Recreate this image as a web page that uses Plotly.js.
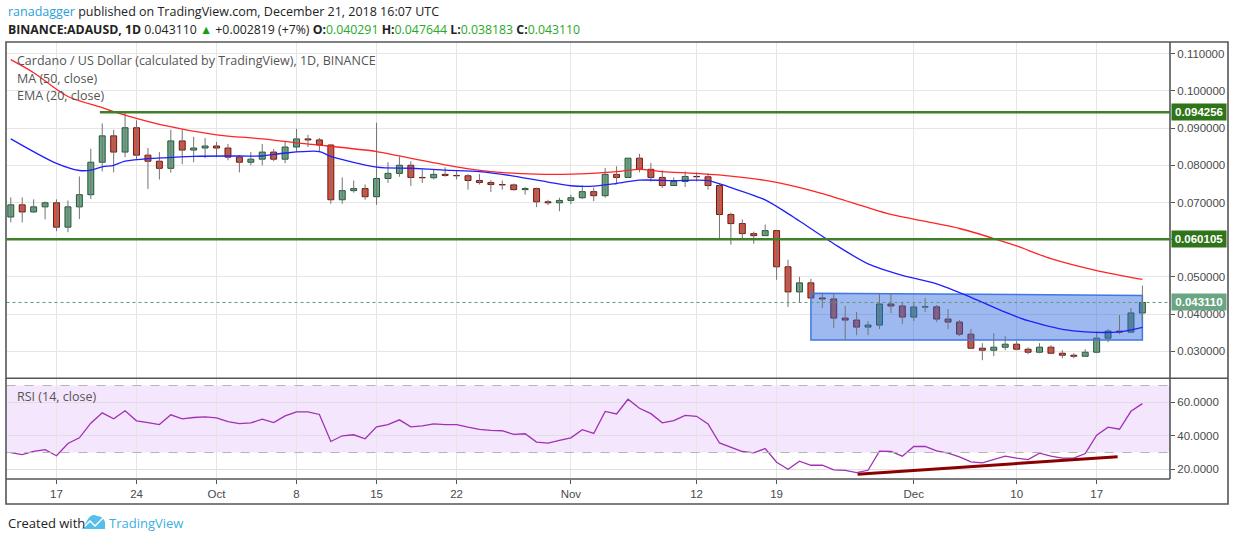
<!DOCTYPE html>
<html><head><meta charset="utf-8">
<script src="https://cdn.plot.ly/plotly-3.0.1.min.js"></script>
<style>html,body{margin:0;padding:0;background:#fff;}#chart{width:1234px;height:541px;}</style>
</head><body><div id="chart"></div>
<script>
// ---------- data ----------
const startDate = '2018-09-13';
const opens  = [0.06609,0.06936,0.06745,0.06882,0.06991,0.06336,0.06882,0.07209,0.08082,0.08791,
                0.08355,0.09009,0.08273,0.08109,0.07918,0.08655,0.08409,0.08464,0.08518,0.08464,
                0.08218,0.08082,0.08164,0.08355,0.08164,0.08491,0.08709,0.08682,0.08545,0.07073,
                0.07318,0.07373,0.07155,0.07645,0.07782,0.08000,0.07673,0.07664,0.07755,0.07727,
                0.07718,0.07591,0.07536,0.07482,0.07473,0.07345,0.07373,0.07018,0.06991,0.07055,
                0.07127,0.07291,0.07182,0.07755,0.07673,0.08191,0.07891,0.07673,0.07455,0.07564,
                0.07700,0.07691,0.07455,0.06676,0.06432,0.06162,0.06108,0.06243,0.05270,0.04595,
                0.04838,0.04432,0.04405,0.03892,0.03838,0.03649,0.03703,0.04270,0.04216,0.03919,
                0.04189,0.04193,0.03865,0.03784,0.03459,0.03081,0.03027,0.03108,0.03189,0.03054,
                0.02973,0.03108,0.02946,0.02892,0.02865,0.02973,0.03351,0.03541,0.03514,0.040291];
const highs  = [0.07136,0.07136,0.07082,0.07027,0.07082,0.07055,0.07700,0.08445,0.09127,0.08955,
                0.09445,0.09209,0.08464,0.08355,0.08955,0.08955,0.08764,0.08736,0.08627,0.08573,
                0.08273,0.08355,0.08573,0.08436,0.08627,0.08982,0.08818,0.08736,0.08573,0.07673,
                0.07591,0.07482,0.09145,0.08082,0.08236,0.08109,0.07891,0.07891,0.07945,0.07845,
                0.07764,0.07764,0.07600,0.07591,0.07509,0.07418,0.07400,0.07073,0.07127,0.07209,
                0.07455,0.07400,0.07927,0.07973,0.08191,0.08309,0.08064,0.07864,0.07673,0.07836,
                0.07809,0.07782,0.07514,0.06730,0.06541,0.06216,0.06405,0.06243,0.05460,0.05000,
                0.04946,0.04568,0.04541,0.04216,0.04054,0.03811,0.04541,0.04541,0.04324,0.04324,
                0.04432,0.04243,0.04135,0.03838,0.03595,0.03216,0.03486,0.03405,0.03270,0.03108,
                0.03216,0.03162,0.03027,0.02946,0.03054,0.03541,0.03595,0.03973,0.04162,0.047644];
const lows   = [0.06464,0.06464,0.06727,0.06545,0.06227,0.06200,0.06555,0.07091,0.07836,0.07809,
                0.08218,0.08164,0.07364,0.07618,0.07800,0.08027,0.08082,0.08191,0.08218,0.08136,
                0.07809,0.08000,0.08000,0.08109,0.08055,0.08355,0.08491,0.08355,0.06964,0.06964,
                0.07264,0.07073,0.06936,0.07527,0.07691,0.07445,0.07527,0.07618,0.07691,0.07618,
                0.07345,0.07482,0.07282,0.07345,0.07318,0.07209,0.06873,0.06927,0.06764,0.06955,
                0.07091,0.07036,0.07127,0.07509,0.07673,0.07809,0.07564,0.07391,0.07455,0.07418,
                0.07564,0.07345,0.06000,0.05865,0.06027,0.05892,0.06108,0.04919,0.04189,0.04324,
                0.04432,0.04162,0.03622,0.03306,0.03432,0.03432,0.03595,0.04027,0.03730,0.03811,
                0.04054,0.03784,0.03595,0.03405,0.03054,0.02757,0.02865,0.03027,0.03027,0.02919,
                0.02946,0.02919,0.02811,0.02811,0.02865,0.02946,0.03243,0.03459,0.03486,0.038183];
const closes = [0.06936,0.06745,0.06882,0.06991,0.06336,0.06882,0.07209,0.08082,0.08791,0.08355,
                0.09009,0.08273,0.08109,0.07918,0.08655,0.08409,0.08464,0.08518,0.08464,0.08218,
                0.08082,0.08164,0.08355,0.08164,0.08491,0.08709,0.08682,0.08545,0.07073,0.07318,
                0.07373,0.07155,0.07645,0.07782,0.08000,0.07673,0.07664,0.07755,0.07727,0.07718,
                0.07591,0.07536,0.07482,0.07473,0.07345,0.07373,0.07018,0.06991,0.07055,0.07127,
                0.07291,0.07182,0.07755,0.07673,0.08191,0.07891,0.07673,0.07455,0.07564,0.07700,
                0.07691,0.07455,0.06676,0.06432,0.06162,0.06108,0.06243,0.05270,0.04595,0.04838,
                0.04432,0.04405,0.03892,0.03838,0.03649,0.03703,0.04270,0.04216,0.03919,0.04189,
                0.04193,0.03865,0.03784,0.03459,0.03081,0.03027,0.03108,0.03189,0.03054,0.02973,
                0.03108,0.02946,0.02892,0.02865,0.02973,0.03351,0.03541,0.03514,0.040291,0.04311];
const rsiValues = [29.9,28.7,30.7,31.7,28.1,35.4,38.8,47.5,53.7,50.1,
                   54.9,48.9,47.9,46.7,52.5,50.1,50.9,51.3,50.7,48.5,
                   47.3,47.7,49.9,47.9,51.9,54.3,54.3,52.7,36.6,40.0,
                   40.6,38.2,45.3,46.7,49.5,45.3,45.9,47.1,46.7,46.7,
                   45.1,43.8,43.2,43.0,40.8,41.2,36.2,35.6,37.2,38.8,
                   43.6,41.4,54.5,53.0,61.8,56.4,53.2,47.7,49.1,52.2,
                   51.6,47.1,35.7,33.0,30.6,29.8,32.4,24.2,20.0,24.8,
                   22.4,22.4,19.6,19.4,18.0,19.4,30.8,30.6,27.8,33.6,
                   33.6,31.0,29.6,27.4,24.4,23.8,25.6,27.8,26.6,25.8,
                   29.6,27.8,26.6,26.6,29.4,40.3,45.1,43.9,54.6,59.2];
const maDates  = ['2018-09-13','2018-09-15','2018-09-18','2018-09-21','2018-09-22','2018-09-26','2018-10-01','2018-10-05',
                  '2018-10-08','2018-10-10','2018-10-15','2018-10-17','2018-10-22','2018-10-25','2018-10-29','2018-11-01',
                  '2018-11-05','2018-11-07','2018-11-09','2018-11-12','2018-11-15','2018-11-19','2018-11-23','2018-11-27',
                  '2018-11-29','2018-12-03','2018-12-05','2018-12-08','2018-12-10','2018-12-13','2018-12-17','2018-12-21'];
const maValues = [0.1084,0.1049,0.0985,0.0955,0.0944,0.0910,0.0882,0.0871,
                  0.0860,0.0854,0.0837,0.0825,0.0796,0.0783,0.0776,0.0776,
                  0.0783,0.0789,0.0783,0.0778,0.0771,0.0754,0.0724,0.0686,
                  0.0668,0.0643,0.0630,0.0603,0.0583,0.0549,0.0517,0.0493];
const emaDates  = ['2018-09-13','2018-09-17','2018-09-19','2018-09-20','2018-09-21','2018-09-22','2018-09-23','2018-09-29',
                   '2018-10-03','2018-10-05','2018-10-07','2018-10-10','2018-10-11','2018-10-15','2018-10-18','2018-10-21',
                   '2018-10-24','2018-10-27','2018-10-30','2018-11-01','2018-11-03','2018-11-05','2018-11-07','2018-11-10',
                   '2018-11-13','2018-11-15','2018-11-18','2018-11-20','2018-11-21','2018-11-24','2018-11-27','2018-11-30',
                   '2018-12-03','2018-12-06','2018-12-09','2018-12-11','2018-12-14','2018-12-16','2018-12-19','2018-12-21'];
const emaValues = [0.0871,0.0805,0.0786,0.0787,0.0796,0.0800,0.0811,0.0824,
                   0.0825,0.0825,0.0833,0.0837,0.0824,0.0795,0.0792,0.0787,
                   0.0783,0.0771,0.0755,0.0745,0.0744,0.0751,0.0760,0.0759,
                   0.0759,0.0740,0.0707,0.0670,0.0650,0.0589,0.0535,0.0504,
                   0.0481,0.0445,0.0405,0.0382,0.0359,0.0352,0.0352,0.0364];
const levelValues = [0.094256, 0.060105];
const levelStarts = ['2018-09-20 19:00', null];
const lastPrice = 0.04311;
const boxDates  = ['2018-11-22', '2018-12-21'];
const boxTop    = [0.0456, 0.0450];
const boxBottom = [0.0330, 0.0330];
const trendDates  = ['2018-11-26 02:00', '2018-12-18 20:00'];
const trendValues = [17.0, 27.5];
const tickDates  = ['2018-09-17','2018-09-24','2018-10-01','2018-10-08','2018-10-15','2018-10-22',
                    '2018-11-01','2018-11-12','2018-11-19','2018-12-01','2018-12-10','2018-12-17'];
const tickLabels = ['17','24','Oct','8','15','22','Nov','12','19','Dec','10','17'];
const priceTicks = [0.03,0.04,0.05,0.06,0.07,0.08,0.09,0.10,0.11];
const hiddenPriceTicks = [0.06];   // label covered by the 0.060105 badge
const rsiTicks   = [20,40,60];

// ---------- helpers ----------
const W = 1234, H = 541;
const px = x => x / W;
const py = y => 1 - y / H;
function addDays(s, n){ const d = new Date(s + 'T00:00:00Z'); d.setUTCDate(d.getUTCDate() + n); return d.toISOString().slice(0,10); }
const dates = opens.map((_, i) => addDays(startDate, i));
const xRange = ['2018-09-12 15:00', '2018-12-23 10:00'];
const xDom = [px(6.5), px(1170)];

const UP_FILL = '#6ba583', UP_LINE = '#225437', DN_FILL = '#d75442', DN_LINE = '#6b1a12';
const isUp = opens.map((o, i) => closes[i] >= o);

// wicks
const wx = [], wy = [];
dates.forEach((d, i) => { wx.push(d, d, null); wy.push(lows[i], highs[i], null); });

const traces = [];
traces.push({x:[boxDates[0], boxDates[1], boxDates[1], boxDates[0], boxDates[0]],
             y:[boxTop[0], boxTop[1], boxBottom[1], boxBottom[0], boxTop[0]],
             xaxis:'x', yaxis:'y', mode:'lines', fill:'toself',
             fillcolor:'rgba(40,100,220,0.45)', line:{color:'#3f78e0', width:1.5}, hoverinfo:'skip'});
traces.push({x:wx, y:wy, xaxis:'x', yaxis:'y', mode:'lines', line:{color:'#737373', width:1}, hoverinfo:'skip'});
traces.push({type:'bar', x:dates,
             base: opens.map((o, i) => Math.min(o, closes[i])),
             y: opens.map((o, i) => Math.max(Math.abs(closes[i] - o), 0.00006)),
             width: 0.52 * 86400000, xaxis:'x', yaxis:'y',
             marker:{color: isUp.map(u => u ? UP_FILL : DN_FILL),
                     line:{color: isUp.map(u => u ? UP_LINE : DN_LINE), width:1}},
             hoverinfo:'skip'});
traces.push({x:maDates, y:maValues, xaxis:'x', yaxis:'y', mode:'lines',
             line:{color:'#ff2424', width:1.3, shape:'spline', smoothing:0.8}, hoverinfo:'skip'});
traces.push({x:emaDates, y:emaValues, xaxis:'x', yaxis:'y', mode:'lines',
             line:{color:'#1f1fff', width:1.3, shape:'spline', smoothing:0.8}, hoverinfo:'skip'});
traces.push({x:dates, y:rsiValues, xaxis:'x', yaxis:'y2', mode:'lines',
             line:{color:'#a030b4', width:1.3}, hoverinfo:'skip'});
traces.push({x:trendDates, y:trendValues, xaxis:'x', yaxis:'y2', mode:'lines',
             line:{color:'#8b0000', width:3}, hoverinfo:'skip'});

const FRAME = '#555555';
const shapes = [
  {type:'rect', xref:'paper', yref:'y2', x0:xDom[0], x1:xDom[1], y0:30, y1:70, fillcolor:'#f4e6fd', line:{width:0}, layer:'below'},
  {type:'line', xref:'paper', yref:'y2', x0:xDom[0], x1:xDom[1], y0:70, y1:70, line:{color:'#b4b4b4', width:1, dash:'dash'}},
  {type:'line', xref:'paper', yref:'y2', x0:xDom[0], x1:xDom[1], y0:30, y1:30, line:{color:'#b4b4b4', width:1, dash:'dash'}},
  {type:'line', xref:'paper', yref:'y', x0:xDom[0], x1:xDom[1], y0:lastPrice, y1:lastPrice, line:{color:'#5f9a78', width:1, dash:'dot'}},
  {type:'rect', xref:'paper', yref:'paper', x0:px(6), x1:px(1228), y0:py(504), y1:py(42), line:{color:FRAME, width:1.6}, layer:'above'},
  {type:'line', xref:'paper', yref:'paper', x0:px(6), x1:px(1228), y0:py(378.3), y1:py(378.3), line:{color:FRAME, width:1.6}},
  {type:'line', xref:'paper', yref:'paper', x0:px(1170), x1:px(1170), y0:py(42), y1:py(479), line:{color:FRAME, width:1.6}},
  {type:'line', xref:'paper', yref:'paper', x0:px(6), x1:px(1170), y0:py(479), y1:py(479), line:{color:FRAME, width:1.6}},
  {type:'path', xref:'paper', yref:'paper',
   path:`M ${px(82)},${py(529)} L ${px(88)},${py(519)} Q ${px(92)},${py(513)} ${px(97)},${py(516)} Q ${px(103)},${py(516)} ${px(105)},${py(522)} L ${px(105)},${py(529)} Z`,
   fillcolor:'#56bfe9', line:{width:0}},
  {type:'path', xref:'paper', yref:'paper',
   path:`M ${px(84)},${py(527)} L ${px(90)},${py(521)} L ${px(95)},${py(526)} L ${px(104)},${py(517)}`,
   line:{color:'#ffffff', width:1.5}}
];
levelValues.forEach((v, k) => {
  if (levelStarts[k]) {
    shapes.push({type:'line', xref:'x', yref:'y', x0:levelStarts[k], x1:xRange[1], y0:v, y1:v, line:{color:'#3f7f2a', width:2.5}});
  } else {
    shapes.push({type:'line', xref:'paper', yref:'y', x0:xDom[0], x1:xDom[1], y0:v, y1:v, line:{color:'#3f7f2a', width:2.5}});
  }
});

const HF = 'Open Sans, sans-serif';
const AF = 'Liberation Sans, Arial, sans-serif';
const annotations = [
  {xref:'paper', yref:'paper', x:px(6), y:py(12), xanchor:'left', yanchor:'middle', showarrow:false,
   text:"<span style='color:#2a9fd8'>ranadagger</span> published on TradingView.com, December 21, 2018 16:07 UTC",
   font:{family:HF, size:12.5, color:'#222'}},
  {xref:'paper', yref:'paper', x:px(6), y:py(29), xanchor:'left', yanchor:'middle', showarrow:false,
   text:"<b>BINANCE:ADAUSD, 1D</b> 0.043110 <span style='color:#14a014'>▲</span> +0.002819 (+7%) <b>O:</b><span style='color:#28a828'>0.040291</span> <b>H:</b><span style='color:#28a828'>0.047644</span> <b>L:</b><span style='color:#28a828'>0.038183</span> <b>C:</b><span style='color:#28a828'>0.043110</span>",
   font:{family:HF, size:12.3, color:'#222'}},
  {xref:'paper', yref:'paper', x:px(15), y:py(61), xanchor:'left', yanchor:'middle', showarrow:false,
   text:'Cardano / US Dollar (calculated by TradingView), 1D, BINANCE', font:{family:HF, size:12.5, color:'#555'}},
  {xref:'paper', yref:'paper', x:px(15), y:py(78), xanchor:'left', yanchor:'middle', showarrow:false,
   text:'MA (50, close)', font:{family:HF, size:12.5, color:'#555'}},
  {xref:'paper', yref:'paper', x:px(15), y:py(95), xanchor:'left', yanchor:'middle', showarrow:false,
   text:'EMA (20, close)', font:{family:HF, size:12.5, color:'#555'}},
  {xref:'paper', yref:'paper', x:px(15), y:py(396), xanchor:'left', yanchor:'middle', showarrow:false,
   text:'RSI (14, close)', font:{family:HF, size:12.5, color:'#555'}},
  {xref:'paper', yref:'paper', x:px(6), y:py(523), xanchor:'left', yanchor:'middle', showarrow:false,
   text:'Created with', font:{family:HF, size:13, color:'#222'}},
  {xref:'paper', yref:'paper', x:px(107), y:py(523), xanchor:'left', yanchor:'middle', showarrow:false,
   text:'TradingView', font:{family:HF, size:13, color:'#3ab0e2'}}
];
const badges = [
  {v:levelValues[0], bg:'#2f7418'},
  {v:levelValues[1], bg:'#2f7418'},
  {v:lastPrice, bg:'#6aa584'}
];
badges.forEach(b => annotations.push({xref:'paper', yref:'y', x:px(1171), y:b.v, xanchor:'left', yanchor:'middle',
  showarrow:false, text:'<b>' + b.v.toFixed(6) + '</b>', bgcolor:b.bg, borderpad:2, width:50, align:'center',
  font:{family:AF, size:11.5, color:'#ffffff'}}));

const layout = {
  width:W, height:H, autosize:false, margin:{l:0, r:0, t:0, b:0},
  paper_bgcolor:'#ffffff', plot_bgcolor:'#ffffff', showlegend:false, hovermode:false, bargap:0,
  xaxis:{type:'date', domain:xDom, range:xRange, anchor:'y2', tickmode:'array', tickvals:tickDates, ticktext:tickLabels,
         showgrid:true, gridcolor:'#e6e6e6', gridwidth:1, ticks:'outside', ticklen:4, tickcolor:FRAME,
         tickfont:{family:AF, size:11.5, color:'#4a4a4a'}, showline:false, zeroline:false, fixedrange:true},
  yaxis:{domain:[py(378.3), py(42)], range:[0.02272, 0.11315], side:'right', anchor:'x',
         tickmode:'array', tickvals:priceTicks,
         ticktext:priceTicks.map(v => hiddenPriceTicks.includes(v) ? '' : v.toFixed(6)),
         showgrid:true, gridcolor:'#e6e6e6', ticks:'outside', ticklen:4, tickcolor:FRAME,
         tickfont:{family:AF, size:11.5, color:'#4a4a4a'}, showline:false, zeroline:false, fixedrange:true},
  yaxis2:{domain:[py(479), py(378.3)], range:[14.2, 74.3], side:'right', anchor:'x',
          tickmode:'array', tickvals:rsiTicks, ticktext:rsiTicks.map(v => v.toFixed(4)),
          showgrid:true, gridcolor:'#e2dce6', ticks:'outside', ticklen:4, tickcolor:FRAME,
          tickfont:{family:AF, size:11.5, color:'#4a4a4a'}, showline:false, zeroline:false, fixedrange:true},
  shapes:shapes, annotations:annotations
};
Plotly.newPlot('chart', traces, layout, {staticPlot:true, displayModeBar:false});
</script></body></html>
